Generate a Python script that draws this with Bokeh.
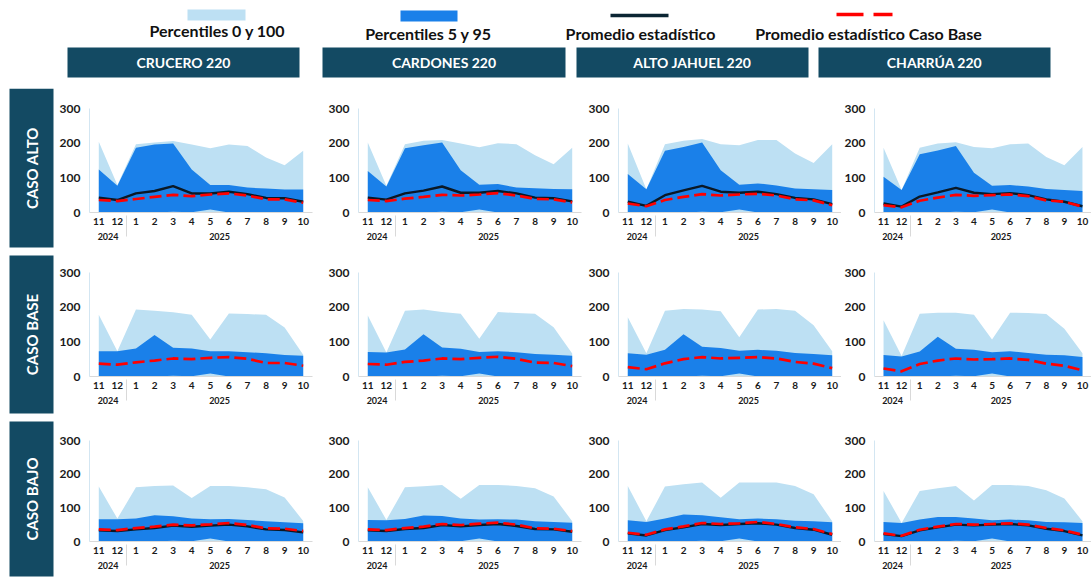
import math
from bokeh.plotting import figure
from bokeh.models import FactorRange, Range1d, FixedTicker, ColumnDataSource
from bokeh.layouts import row, column
from bokeh.embed import file_html
from bokeh.resources import INLINE
from bokeh.core.properties import value

# ---------------- data ----------------
years = ["2024", "2024"] + ["2025"] * 10
months = ["11", "12", "1", "2", "3", "4", "5", "6", "7", "8", "9", "10"]
stations = ["CRUCERO 220", "CARDONES 220", "ALTO JAHUEL 220", "CHARRÚA 220"]
cases = ["CASO ALTO", "CASO BASE", "CASO BAJO"]
legend_labels = ["Percentiles 0 y 100", "Percentiles 5 y 95",
                 "Promedio estadístico", "Promedio estadístico Caso Base"]
y_ticks = [0, 100, 200, 300]

p0 = [0, 0, 0, 0, 0, 0, 0, 0, 0, 0, 0, 0]
p5 = [0, 0, 0, 0, 2, 1, 9, 0, 0, 0, 0, 0]

alto_p100 = [
    [204, 79, 197, 202, 206, 196, 185, 196, 192, 159, 136, 178],
    [202, 77, 197, 207, 209, 199, 188, 200, 197, 165, 139, 187],
    [199, 67, 197, 207, 212, 197, 194, 209, 209, 170, 143, 197],
    [187, 65, 187, 199, 203, 189, 185, 197, 199, 160, 136, 189],
]
alto_p95 = [
    [124, 77, 187, 196, 199, 124, 79, 79, 72, 69, 66, 66],
    [120, 75, 185, 194, 202, 122, 80, 82, 72, 70, 68, 67],
    [111, 67, 178, 189, 202, 122, 80, 84, 78, 69, 67, 65],
    [103, 65, 168, 179, 192, 115, 77, 79, 75, 68, 65, 62],
]
alto_mean = [
    [43, 36, 55, 62, 76, 55, 55, 60, 53, 42, 41, 31],
    [43, 37, 55, 63, 75, 57, 57, 62, 55, 43, 41, 32],
    [31, 19, 50, 64, 77, 60, 57, 60, 53, 42, 38, 24],
    [26, 17, 46, 58, 71, 57, 53, 56, 50, 38, 31, 18],
]
alto_base = [
    [36, 33, 39, 45, 51, 47, 52, 55, 49, 38, 38, 28],
    [36, 33, 40, 45, 51, 49, 52, 56, 49, 39, 38, 29],
    [26, 18, 36, 45, 53, 49, 52, 54, 49, 38, 35, 21],
    [21, 15, 34, 43, 51, 48, 50, 52, 47, 35, 31, 17],
]

base_p100 = [
    [178, 73, 193, 190, 185, 178, 107, 182, 180, 178, 141, 63],
    [176, 69, 190, 193, 186, 181, 109, 186, 183, 181, 142, 66],
    [171, 67, 190, 195, 193, 188, 113, 193, 195, 190, 148, 73],
    [162, 59, 181, 184, 184, 178, 107, 184, 183, 180, 138, 67],
]
base_p95 = [
    [73, 73, 81, 120, 83, 81, 73, 73, 70, 67, 62, 60],
    [71, 69, 78, 122, 84, 80, 71, 73, 70, 65, 63, 60],
    [67, 63, 77, 122, 86, 82, 74, 77, 74, 68, 65, 61],
    [62, 58, 72, 115, 80, 77, 70, 73, 68, 63, 61, 56],
]
base_base = [
    [37, 34, 41, 46, 52, 50, 54, 56, 51, 39, 39, 31],
    [36, 34, 42, 46, 52, 50, 54, 57, 51, 40, 39, 30],
    [27, 21, 38, 50, 56, 52, 54, 56, 52, 42, 37, 24],
    [23, 15, 36, 46, 52, 49, 50, 52, 48, 37, 31, 18],
]

bajo_p100 = [
    [163, 68, 161, 165, 166, 129, 165, 165, 161, 155, 131, 61],
    [161, 64, 161, 164, 168, 127, 168, 168, 165, 158, 134, 60],
    [165, 60, 163, 170, 175, 130, 175, 175, 175, 165, 140, 60],
    [150, 55, 150, 158, 165, 122, 168, 168, 165, 152, 128, 60],
]
bajo_p95 = [
    [66, 66, 68, 78, 75, 68, 66, 67, 64, 60, 57, 54],
    [64, 63, 67, 77, 76, 68, 65, 66, 65, 60, 58, 56],
    [63, 58, 68, 80, 78, 72, 66, 68, 66, 62, 60, 57],
    [58, 55, 65, 73, 73, 68, 63, 65, 63, 58, 57, 55],
]
bajo_mean = [
    [33, 31, 36, 40, 47, 44, 47, 50, 45, 36, 34, 27],
    [33, 31, 37, 40, 49, 45, 49, 52, 46, 37, 36, 29],
    [24, 18, 34, 42, 52, 49, 52, 54, 50, 40, 35, 20],
    [22, 16, 33, 42, 50, 48, 50, 52, 48, 38, 31, 18],
]
bajo_base = [
    [36, 34, 40, 44, 50, 48, 51, 55, 49, 39, 38, 31],
    [36, 34, 40, 44, 52, 49, 53, 56, 50, 39, 38, 31],
    [26, 20, 36, 45, 55, 52, 54, 58, 52, 42, 37, 22],
    [24, 17, 35, 44, 52, 50, 52, 54, 50, 40, 33, 20],
]

# ---------------- style ----------------
LIGHT = "#BDE0F3"
DARK = "#1A80E9"
BLACK = "#0A1826"
RED = "#FF0000"
TEAL = "#134A63"
FONT = "Lato"

factors = list(zip(years, months))

COL_W = [269, 260, 256, 250]
COL_RB = [13, 4, 0, 0]
# (fig height, top border, bottom border) per row
ROW_SPEC = [(164, 20, 40), (164, 20, 40), (163, 24, 38)]
TOP_H = 88
PAGE_H = TOP_H + sum(r[0] for r in ROW_SPEC)


def make_chart(p100, p95, mean, base, width, rb, spec):
    h, tb, bb = spec
    p = figure(
        x_range=FactorRange(*factors, factor_padding=0, group_padding=0,
                            subgroup_padding=0, range_padding=0),
        y_range=Range1d(0, 300),
        width=width, height=h, output_backend="svg", toolbar_location=None,
        min_border_left=31, min_border_right=rb, min_border_top=tb,
        min_border_bottom=bb,
    )
    data = dict(x=factors, p0=p0, p5=p5, p95=p95, p100=p100, base=base)
    if mean is not None:
        data["mean"] = mean
    src = ColumnDataSource(data)
    p.varea(x="x", y1="p0", y2="p100", source=src, fill_color=LIGHT)
    p.varea(x="x", y1="p5", y2="p95", source=src, fill_color=DARK)
    if mean is not None:
        p.line(x="x", y="mean", source=src, line_color=BLACK, line_width=2.4)
    p.line(x="x", y="base", source=src, line_color=RED, line_width=2.7,
           line_dash="12 5")

    p.xgrid.visible = False
    p.ygrid.visible = False
    p.outline_line_color = None
    p.background_fill_color = "white"

    ya = p.yaxis[0]
    ya.ticker = FixedTicker(ticks=y_ticks)
    ya.major_label_text_font = FONT
    ya.major_label_text_font_size = "12px"
    ya.major_label_text_font_style = "bold"
    ya.major_label_text_color = "#1A1A1A"
    ya.axis_line_color = "#D3E6F2"
    ya.major_tick_line_color = None
    ya.minor_tick_line_color = None
    ya.major_tick_out = 0
    ya.major_tick_in = 0
    ya.minor_tick_out = 0
    ya.major_label_standoff = 9

    xa = p.xaxis[0]
    xa.major_label_text_font = FONT
    xa.major_label_text_font_size = "10px"
    xa.major_label_text_font_style = "bold"
    xa.major_label_text_color = "#1A1A1A"
    xa.group_text_font = FONT
    xa.group_text_font_size = "9px"
    xa.group_text_font_style = "bold"
    xa.group_text_color = "#1A1A1A"
    xa.axis_line_color = "#D9D9D9"
    xa.major_tick_line_color = None
    xa.minor_tick_line_color = None
    xa.major_tick_out = 0
    xa.major_tick_in = 0
    xa.separator_line_color = "#D9D9D9"
    xa.separator_line_width = 1
    xa.major_label_standoff = 5
    return p


case_data = [
    (alto_p100, alto_p95, alto_mean, alto_base),
    (base_p100, base_p95, None, base_base),
    (bajo_p100, bajo_p95, bajo_mean, bajo_base),
]

chart_rows = []
for r, (p100s, p95s, means, bases) in enumerate(case_data):
    figs = []
    for c in range(4):
        figs.append(make_chart(p100s[c], p95s[c],
                               None if means is None else means[c],
                               bases[c], COL_W[c], COL_RB[c], ROW_SPEC[r]))
    chart_rows.append(row(*figs, spacing=0))
grid = column(*chart_rows, spacing=0)

# ---------------- top strip: legend + column headers ----------------
top = figure(width=1091, height=TOP_H, x_range=Range1d(0, 1091), y_range=Range1d(TOP_H, 0),
             output_backend="svg", toolbar_location=None, min_border=0,
             x_axis_location=None, y_axis_location=None)
top.grid.visible = False
top.outline_line_color = None

top.quad(left=[187], right=[245], top=[9], bottom=[20], fill_color=LIGHT, line_color=None)
top.quad(left=[400], right=[457], top=[10], bottom=[21], fill_color=DARK, line_color=None)
top.line(x=[610, 668], y=[15, 15], line_color="#0B2533", line_width=3.5)
top.line(x=[836, 892], y=[14, 14], line_color=RED, line_width=3.5, line_dash="27 10")
top.text(x=[217, 428, 640, 868], y=[30, 33, 33, 33], text=legend_labels,
         text_font=value(FONT), text_font_size="16px", text_font_style="bold",
         text_color="#111111", text_align="center", text_baseline="middle")

hdr_left = [67, 322, 576, 818]
hdr_right = [299, 565, 808, 1050]
top.quad(left=hdr_left, right=hdr_right, top=[47] * 4,
         bottom=[77] * 4, fill_color=TEAL, line_color=None)
top.text(x=[(a + b) / 2 for a, b in zip(hdr_left, hdr_right)], y=[62] * 4, text=stations,
         text_font=value(FONT), text_font_size="14px", text_font_style="bold",
         text_color="white", text_align="center", text_baseline="middle")

# ---------------- left strip: row headers ----------------
left = figure(width=56, height=PAGE_H - TOP_H, x_range=Range1d(0, 56),
              y_range=Range1d(PAGE_H, TOP_H),
              output_backend="svg", toolbar_location=None, min_border=0,
              x_axis_location=None, y_axis_location=None)
left.grid.visible = False
left.outline_line_color = None
box_top = [88, 255, 421]
box_bot = [247, 413, 576]
left.quad(left=[9] * 3, right=[53] * 3, top=box_top, bottom=box_bot,
          fill_color=TEAL, line_color=None)
left.text(x=[31] * 3, y=[(a + b) / 2 for a, b in zip(box_top, box_bot)], text=cases,
          angle=math.pi / 2,
          text_font=value(FONT), text_font_size="15px", text_font_style="bold",
          text_color="white", text_align="center", text_baseline="middle")

layout = column(top, row(left, grid, spacing=0), spacing=0)

open("out.html", "w").write(file_html(layout, INLINE, title="Percentiles"))
